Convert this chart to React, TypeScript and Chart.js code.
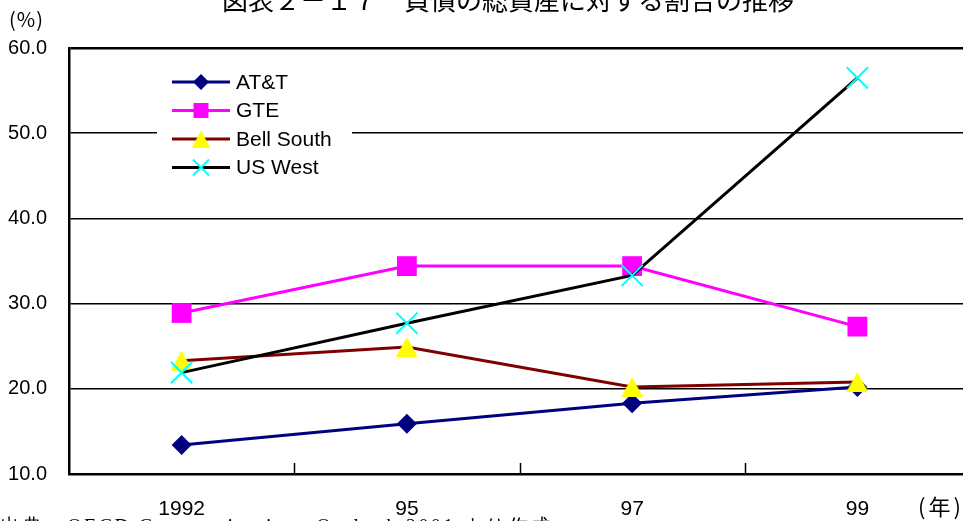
import { useEffect, useRef } from "react";
import { Chart, registerables } from "chart.js";

Chart.register(...registerables);

const categories = ["1992", "95", "97", "99"];
const seriesNames = ["AT&T", "GTE", "Bell South", "US West"];
const attValues = [13.4, 15.9, 18.3, 20.2];
const gteValues = [28.9, 34.4, 34.4, 27.3];
const bellSouthValues = [23.3, 24.9, 20.2, 20.8];
const usWestValues = [21.9, 27.7, 33.3, 56.5];
const yTicks = [10, 20, 30, 40, 50, 60];

const titleText = "図表２－１７　負債の総資産に対する割合の推移";
const yUnitText = "(%)";
const xUnitText = "(年)";
const sourceText = "出典：OECD Communications Outlook 2001 より作成";

const SANS = "'Liberation Sans', Arial, sans-serif";
const CJK = "'Noto Sans CJK JP', 'Noto Sans', sans-serif";
const SERIF = "'Liberation Serif', 'Times New Roman', serif";

const CANVAS_W = 987;

function makeTriangle(w: number, h: number, color: string) {
  const c = document.createElement("canvas");
  c.width = w;
  c.height = h;
  const g = c.getContext("2d")!;
  g.fillStyle = color;
  g.beginPath();
  g.moveTo(w / 2, 0);
  g.lineTo(w, h);
  g.lineTo(0, h);
  g.closePath();
  g.fill();
  return c;
}

export default function App() {
  const ref = useRef<HTMLCanvasElement | null>(null);

  useEffect(() => {
    document.body.style.margin = "0";
    const canvas = ref.current;
    if (!canvas) return;

    const triBig = makeTriangle(22, 20, "#FFFF00");
    const triSmall = makeTriangle(18, 17, "#FFFF00");

    const legendMarkers = ["diamond", "square", "triangle", "x"];

    const extras = {
      id: "extras",
      afterDraw(chart: any) {
        const ctx = chart.ctx as CanvasRenderingContext2D;
        const area = chart.chartArea;
        const xs = chart.scales.x;
        ctx.save();

        // inward tick marks on the category axis
        ctx.strokeStyle = "#000";
        ctx.lineWidth = 1.5;
        for (let i = 0; i < categories.length - 1; i++) {
          const px = Math.round(xs.getPixelForValue(i + 0.5)) + 0.5;
          ctx.beginPath();
          ctx.moveTo(px, area.bottom);
          ctx.lineTo(px, area.bottom - 11);
          ctx.stroke();
        }

        // title (partly cut at the top)
        ctx.fillStyle = "#000";
        ctx.font = `26px ${CJK}`;
        ctx.textAlign = "center";
        ctx.textBaseline = "middle";
        ctx.fillText(titleText, 508, 0);

        // unit labels
        ctx.font = `20px ${CJK}`;
        ctx.textAlign = "left";
        (ctx as any).letterSpacing = "1px";
        ctx.fillText(yUnitText, 9, 19);
        ctx.font = `22px ${CJK}`;
        (ctx as any).letterSpacing = "3px";
        ctx.fillText(xUnitText, 918, 507);

        // source line (cut at the bottom)
        ctx.font = `20px ${SERIF}`;
        (ctx as any).letterSpacing = "2.4px";
        ctx.textBaseline = "alphabetic";
        ctx.fillText(sourceText, 0, 533);
        (ctx as any).letterSpacing = "0px";

        // legend inside the plot
        const bx = area.left + 88;
        const by = area.top + 16;
        ctx.fillStyle = "#fff";
        ctx.fillRect(bx, by, 195, 121);
        const rowH = 28.5;
        chart.data.datasets.forEach((ds: any, i: number) => {
          const cy = by + 18 + i * rowH;
          const x0 = bx + 15;
          const x1 = bx + 73;
          const cx = (x0 + x1) / 2;
          ctx.strokeStyle = ds.borderColor;
          ctx.lineWidth = 3;
          ctx.beginPath();
          ctx.moveTo(x0, cy);
          ctx.lineTo(x1, cy);
          ctx.stroke();
          const m = legendMarkers[i];
          ctx.fillStyle = ds.pointBackgroundColor;
          if (m === "diamond") {
            ctx.beginPath();
            ctx.moveTo(cx, cy - 8);
            ctx.lineTo(cx + 8, cy);
            ctx.lineTo(cx, cy + 8);
            ctx.lineTo(cx - 8, cy);
            ctx.closePath();
            ctx.fill();
          } else if (m === "square") {
            ctx.fillRect(cx - 7.5, cy - 7.5, 15, 15);
          } else if (m === "triangle") {
            ctx.drawImage(triSmall, cx - 9, cy - 8.5);
          } else {
            ctx.strokeStyle = ds.pointBorderColor;
            ctx.lineWidth = 2;
            ctx.beginPath();
            ctx.moveTo(cx - 8, cy - 8);
            ctx.lineTo(cx + 8, cy + 8);
            ctx.moveTo(cx + 8, cy - 8);
            ctx.lineTo(cx - 8, cy + 8);
            ctx.stroke();
          }
          ctx.fillStyle = "#000";
          ctx.font = `21px ${SANS}`;
          ctx.textAlign = "left";
          ctx.textBaseline = "middle";
          ctx.fillText(ds.label, x1 + 6, cy + 1);
        });

        ctx.restore();
      },
    };

    const chart = new Chart(canvas, {
      type: "line",
      data: {
        labels: categories,
        datasets: [
          {
            label: seriesNames[0],
            data: attValues,
            borderColor: "#000080",
            backgroundColor: "#000080",
            pointBackgroundColor: "#000080",
            pointBorderColor: "#000080",
            borderWidth: 3,
            pointStyle: "rectRot",
            pointRadius: 10,
            pointBorderWidth: 0,
            order: 4,
          },
          {
            label: seriesNames[1],
            data: gteValues,
            borderColor: "#FF00FF",
            backgroundColor: "#FF00FF",
            pointBackgroundColor: "#FF00FF",
            pointBorderColor: "#FF00FF",
            borderWidth: 3,
            pointStyle: "rect",
            pointRadius: 14,
            pointBorderWidth: 0,
            order: 3,
          },
          {
            label: seriesNames[2],
            data: bellSouthValues,
            borderColor: "#800000",
            backgroundColor: "#FFFF00",
            pointBackgroundColor: "#FFFF00",
            pointBorderColor: "#FFFF00",
            borderWidth: 3,
            pointStyle: triBig as any,
            pointRadius: 11,
            pointBorderWidth: 0,
            order: 2,
          },
          {
            label: seriesNames[3],
            data: usWestValues,
            borderColor: "#000000",
            backgroundColor: "#00FFFF",
            pointBackgroundColor: "#00FFFF",
            pointBorderColor: "#00FFFF",
            borderWidth: 3,
            pointStyle: "crossRot",
            pointRadius: 15,
            pointBorderWidth: 2,
            order: 1,
          },
        ],
      },
      options: {
        responsive: false,
        animation: false,
        layout: { padding: { top: 48, right: 1, left: 0, bottom: 0 } },
        plugins: {
          legend: { display: false },
          tooltip: { enabled: false },
          title: { display: false },
        },
        elements: { line: { tension: 0 } },
        scales: {
          x: {
            type: "category",
            offset: true,
            grid: { display: false, drawTicks: false },
            border: { display: true, color: "#000", width: 2.5 },
            ticks: {
              color: "#000",
              font: { family: SANS, size: 21 },
              padding: 23,
              maxRotation: 0,
              autoSkip: false,
            },
            afterFit: (s: any) => {
              s.height = 47;
              s.paddingLeft = 0;
              s.paddingRight = 0;
            },
          },
          y: {
            min: 10,
            max: 60,
            afterBuildTicks: (s: any) => {
              s.ticks = yTicks.map((v) => ({ value: v }));
            },
            ticks: {
              color: "#000",
              font: { family: SANS, size: 20 },
              padding: 22,
              callback: (v: any) => Number(v).toFixed(1),
            },
            grid: {
              color: "#000",
              lineWidth: (c: any) => (c.tick && c.tick.value === 60 ? 2.5 : 1.5),
              drawTicks: false,
            },
            border: { display: true, color: "#000", width: 2.5 },
            afterFit: (s: any) => {
              s.width = 69;
            },
          },
        },
      },
      plugins: [extras],
    });

    return () => chart.destroy();
  }, []);

  return (
    <div
      style={{
        position: "fixed",
        left: 0,
        top: 0,
        width: 963,
        height: 521,
        overflow: "hidden",
        background: "#fff",
      }}
    >
      <canvas
        ref={ref}
        width={CANVAS_W}
        height={521}
        style={{ display: "block", width: CANVAS_W, height: 521 }}
      />
    </div>
  );
}
